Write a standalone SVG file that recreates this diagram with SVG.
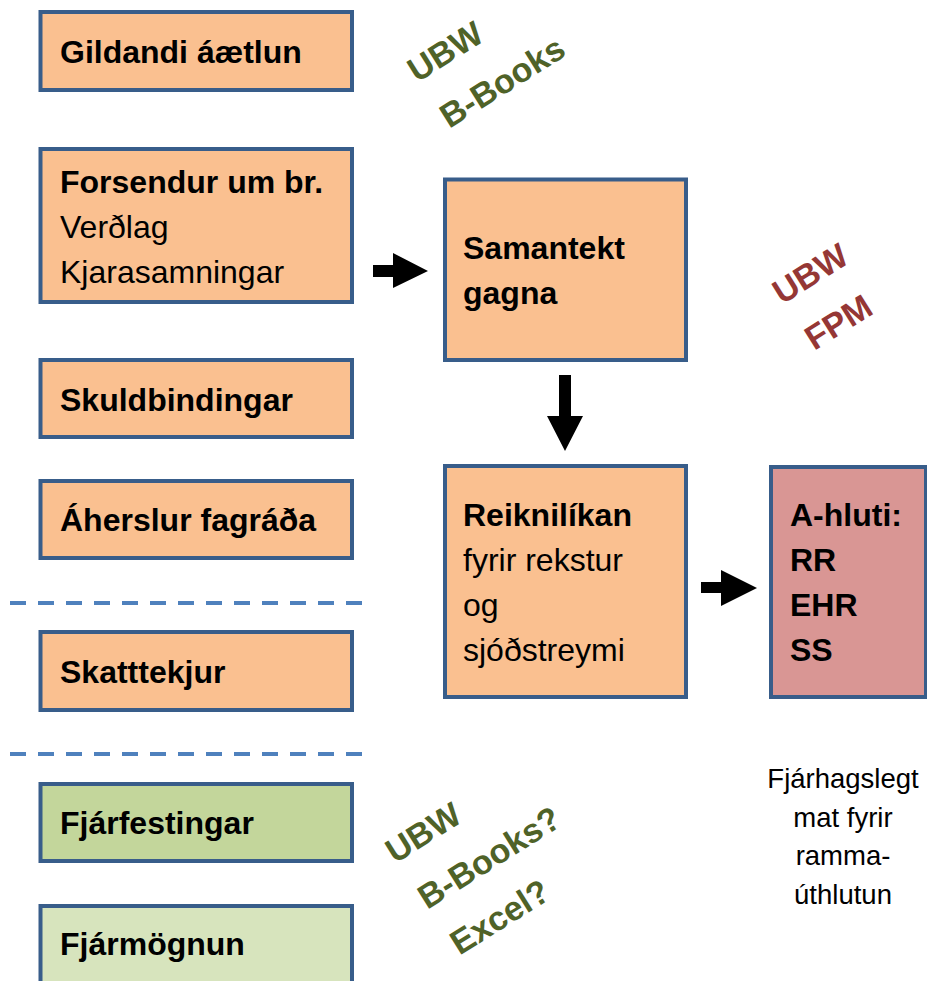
<svg xmlns="http://www.w3.org/2000/svg" width="927" height="981" viewBox="0 0 927 981">
<style>
.box{stroke:#385D8A;stroke-width:4}
.peach{fill:#FAC090}
.g1{fill:#C3D69B}
.g2{fill:#D7E4BD}
.pink{fill:#D99694}
.t{font-family:"Liberation Sans",Arial,sans-serif;font-size:32px;fill:#000}
.b{font-weight:bold}
.note{font-family:"Liberation Sans",Arial,sans-serif;font-size:27.5px;fill:#000;text-anchor:middle}
.rot{font-family:"Liberation Sans",Arial,sans-serif;font-size:34px;font-weight:bold}
.green{fill:#4F6228}
.red{fill:#953735}
.dash{stroke:#4F81BD;stroke-width:4;stroke-dasharray:16 12;fill:none}
.arrow{fill:#000}
</style>
<rect width="927" height="981" fill="#fff"/>

<g id="gildandi">
<rect class="box peach" x="40.5" y="12" width="311.5" height="78"/>
<text class="t b" x="60" y="63">Gildandi áætlun</text>
</g>
<g id="forsendur">
<rect class="box peach" x="40.5" y="149" width="311.5" height="153"/>
<text class="t b" x="60" y="193">Forsendur um br.</text>
<text class="t" x="60" y="238">Verðlag</text>
<text class="t" x="60" y="283">Kjarasamningar</text>
</g>
<g id="skuldbindingar">
<rect class="box peach" x="40.5" y="360" width="311.5" height="77"/>
<text class="t b" x="60" y="411">Skuldbindingar</text>
</g>
<g id="aherslur">
<rect class="box peach" x="40.5" y="481" width="311.5" height="77"/>
<text class="t b" x="60" y="531">Áherslur fagráða</text>
</g>
<g id="skatttekjur">
<rect class="box peach" x="40.5" y="632" width="311.5" height="78"/>
<text class="t b" x="60" y="683">Skatttekjur</text>
</g>
<g id="fjarfestingar">
<rect class="box g1" x="40.5" y="784" width="311.5" height="77"/>
<text class="t b" x="60" y="834">Fjárfestingar</text>
</g>
<g id="fjarmognun">
<rect class="box g2" x="40.5" y="906" width="311.5" height="80"/>
<text class="t b" x="60" y="955">Fjármögnun</text>
</g>
<g id="samantekt">
<rect class="box peach" x="445" y="179.5" width="241" height="180.5"/>
<text class="t b" x="463" y="259">Samantekt</text>
<text class="t b" x="463" y="304">gagna</text>
</g>
<g id="reiknilikan">
<rect class="box peach" x="445" y="466" width="241" height="231"/>
<text class="t b" x="463" y="526">Reiknilíkan</text>
<text class="t" x="463" y="571">fyrir rekstur</text>
<text class="t" x="463" y="616">og</text>
<text class="t" x="463" y="661">sjóðstreymi</text>
</g>
<g id="ahluti">
<rect class="box pink" x="771" y="467" width="155" height="230"/>
<text class="t b" x="790" y="526">A-hluti:</text>
<text class="t b" x="790" y="571">RR</text>
<text class="t b" x="790" y="616">EHR</text>
<text class="t b" x="790" y="661">SS</text>
</g>

<g id="separators">
<line class="dash" x1="10" y1="603" x2="362" y2="603"/>
<line class="dash" x1="10" y1="754" x2="362" y2="754"/>
</g>

<g id="connectors">
<polygon class="arrow" points="373,265 393,265 393,253 428,271 393,288 393,277 373,277"/>
<polygon class="arrow" points="559,375 571,375 571,416 583,416 565,451 547,416 559,416"/>
<polygon class="arrow" points="701,582 721,582 721,570 757,588 721,606 721,593 701,593"/>
</g>

<g id="label-fjarhagslegt">
<text class="note" x="843" y="788">Fjárhagslegt</text>
<text class="note" x="843" y="827">mat fyrir</text>
<text class="note" x="843" y="865">ramma-</text>
<text class="note" x="843" y="904">úthlutun</text>
</g>

<g id="label-ubw-bbooks" transform="translate(417,83) rotate(-32)">
<text class="rot green" x="0" y="0">UBW</text>
<text class="rot green" x="3" y="56">B-Books</text>
</g>
<g id="label-ubw-fpm" transform="translate(782,305) rotate(-32)">
<text class="rot red" x="0" y="0">UBW</text>
<text class="rot red" x="3" y="56">FPM</text>
</g>
<g id="label-ubw-bbooks-excel" transform="translate(395,864) rotate(-32)">
<text class="rot green" x="0" y="0">UBW</text>
<text class="rot green" x="3" y="56">B-Books?</text>
<text class="rot green" x="6" y="112">Excel?</text>
</g>
</svg>
